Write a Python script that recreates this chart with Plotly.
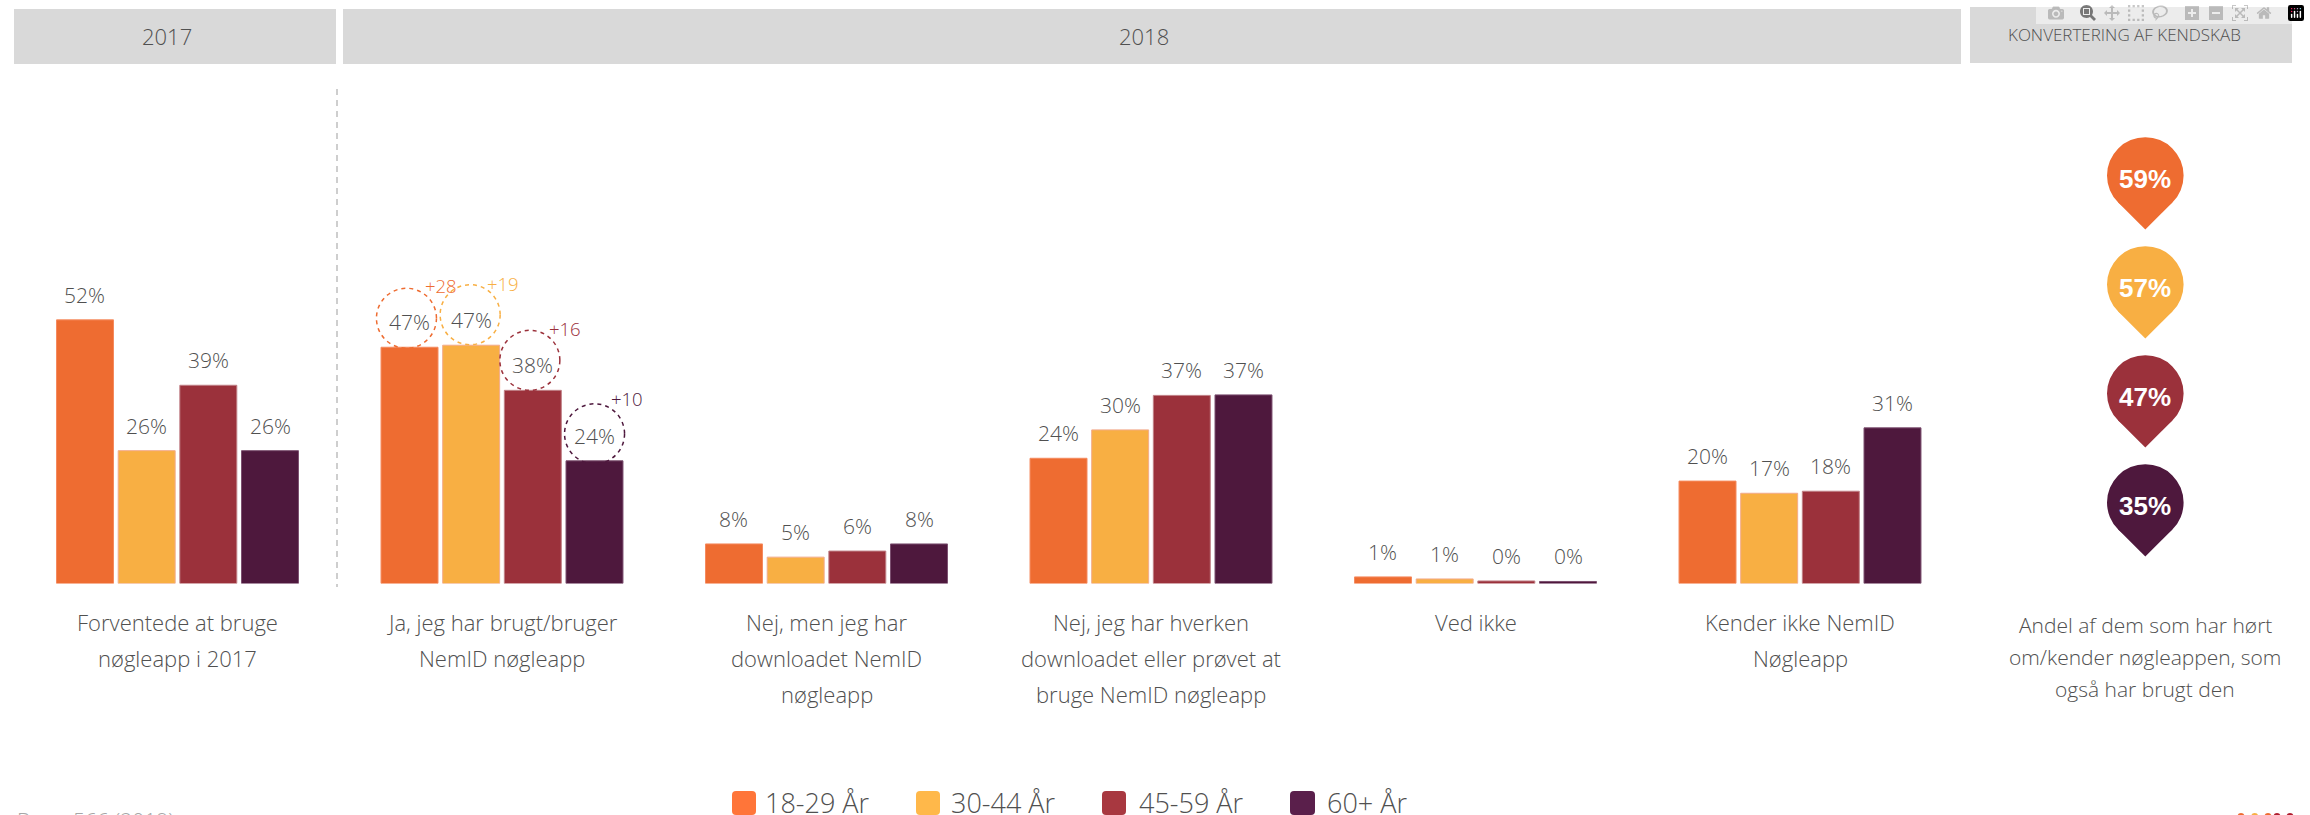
import plotly.graph_objects as go

# ---------- data ----------
category_lines = [
    ["Forventede at bruge", "nøgleapp i 2017"],
    ["Ja, jeg har brugt/bruger", "NemID nøgleapp"],
    ["Nej, men jeg har", "downloadet NemID", "nøgleapp"],
    ["Nej, jeg har hverken", "downloadet eller prøvet at", "bruge NemID nøgleapp"],
    ["Ved ikke"],
    ["Kender ikke NemID", "Nøgleapp"],
]
categories = [" ".join(l) for l in category_lines]
age_groups = ["18-29 År", "30-44 År", "45-59 År", "60+ År"]
v_18_29 = [52.0, 46.6, 7.8, 24.7, 1.3, 20.2]
v_30_44 = [26.2, 47.0, 5.2, 30.3, 0.9, 17.8]
v_45_59 = [39.1, 38.1, 6.4, 37.1, 0.5, 18.2]
v_60 = [26.2, 24.2, 7.8, 37.2, 0.4, 30.7]
labels_18_29 = ["52%", "47%", "8%", "24%", "1%", "20%"]
labels_30_44 = ["26%", "47%", "5%", "30%", "1%", "17%"]
labels_45_59 = ["39%", "38%", "6%", "37%", "0%", "18%"]
labels_60 = ["26%", "24%", "8%", "37%", "0%", "31%"]
delta_labels = ["+28", "+19", "+16", "+10"]
conversion = ["59%", "57%", "47%", "35%"]
headers = ["2017", "2018", "KONVERTERING AF KENDSKAB"]
conversion_note = ["Andel af dem som har hørt", "om/kender nøgleappen, som", "også har brugt den"]
base_note = "Base: 566 (2019)"

# ---------- style ----------
W, H = 2310, 815
colors = ["#EE6C31", "#F8AF43", "#9B313B", "#4E183D"]
edge = ["#F58A5E", "#F2AB8C", "#C08086", "#7C5070"]
legend_colors = ["#FF7539", "#FFB84A", "#A83840", "#5A1F4B"]
TXT = "#505050"
FONT = "Open Sans"
series = [v_18_29, v_30_44, v_45_59, v_60]
series_labels = [labels_18_29, labels_30_44, labels_45_59, labels_60]

PLOT_L, PLOT_R = 15.25, 1962.25
BASE_Y = 583.5
PX_PER = 5.07
YMAX = 100
TOP_Y = BASE_Y - YMAX * PX_PER
CAT_W = (PLOT_R - PLOT_L) / len(categories)
PITCH = 61.7 / CAT_W


def fx(x):
    return x / W


def fy(y):
    return (H - y) / H


fig = go.Figure()
for name, vals, c, e in zip(age_groups, series, colors, edge):
    fig.add_bar(name=name, x=categories, y=vals, marker=dict(color=c, line=dict(color=e, width=1)),
                showlegend=False)

annotations = []
shapes = []


def note(x, y, text, size, color=TXT, font=FONT, weight=300, xref="paper", yref="paper", **kw):
    annotations.append(dict(x=x, y=y, text=text, xref=xref, yref=yref, showarrow=False,
                            font=dict(family=font, size=size, color=color, weight=weight), **kw))


# value labels above bars
for j, (vals, labs) in enumerate(zip(series, series_labels)):
    off = (j - 1.5) * PITCH
    for i, (v, lab) in enumerate(zip(vals, labs)):
        note(i + off, v, lab, 21, xref="x", yref="y", yshift=25, yanchor="middle", xanchor="center")

# dashed circles and change labels on the second group
circle_dx = [-3, -1, -3, 0]
circle_dy = [29, 30.5, 30, 27]
R = 30
for j, (vals, c, d) in enumerate(zip(series, colors, delta_labels)):
    xc = 1 + (j - 1.5) * PITCH
    v = vals[1]
    shapes.append(dict(type="circle", xref="x", yref="y", xsizemode="pixel", ysizemode="pixel",
                       xanchor=xc, yanchor=v,
                       x0=circle_dx[j] - R, x1=circle_dx[j] + R,
                       y0=circle_dy[j] - R, y1=circle_dy[j] + R,
                       line=dict(color=c, width=1.5, dash="4px,4px"), fillcolor="rgba(0,0,0,0)"))
    note(xc, v, d, 18.5, color=c, xref="x", yref="y", xshift=32, yshift=62,
         yanchor="middle", xanchor="center")

# category labels, one annotation per line
line_y = [622, 658, 694]
for i, lines in enumerate(category_lines):
    for k, line in enumerate(lines):
        note(i, fy(line_y[k]), line, 22, xref="x", yanchor="middle", xanchor="center")

# header bands
for (x0, x1, y0, y1) in [(14, 336, 9, 64), (343, 1961, 9, 64), (1970, 2292, 7, 63)]:
    shapes.append(dict(type="rect", xref="paper", yref="paper", x0=fx(x0), x1=fx(x1), y0=fy(y0), y1=fy(y1),
                       fillcolor="#D9D9D9", line_width=0, layer="below"))
note(fx(167), fy(36), headers[0], 22, xanchor="center", yanchor="middle")
note(fx(1144), fy(36), headers[1], 22, xanchor="center", yanchor="middle")
note(fx(2124), fy(35), headers[2], 17, xanchor="center", yanchor="middle")

# separator
shapes.append(dict(type="line", xref="paper", yref="paper", x0=fx(337), x1=fx(337), y0=fy(89), y1=fy(587),
                   line=dict(color="#BFBFBF", width=1.5, dash="6px,5px")))

# conversion pins
CX = 2145.3
PIN_R = 38.3
pin_y = [175.5, 284.5, 393.5, 502.5]
for cy, c, t in zip(pin_y, colors, conversion):
    shapes.append(dict(type="circle", xref="paper", yref="paper", x0=fx(CX - PIN_R), x1=fx(CX + PIN_R),
                       y0=fy(cy + PIN_R), y1=fy(cy - PIN_R), fillcolor=c, line_width=0))
    d = PIN_R * 0.7071
    path = f"M {fx(CX - d)} {fy(cy + d)} L {fx(CX)} {fy(cy + 54)} L {fx(CX + d)} {fy(cy + d)} L {fx(CX)} {fy(cy)} Z"
    shapes.append(dict(type="path", xref="paper", yref="paper", path=path, fillcolor=c, line_width=0))
    note(fx(CX), fy(cy + 3.5), t, 26, color="#FFFFFF", font="Liberation Sans", weight=700,
         xanchor="center", yanchor="middle")
for y, line in zip([625, 657, 689], conversion_note):
    note(fx(2145), fy(y), line, 21, xanchor="center", yanchor="middle")

# legend
leg_x = [(732, 756, 763), (916, 940, 949), (1102, 1126, 1137), (1290, 1315, 1325)]
for (x0, x1, tx), c, name in zip(leg_x, legend_colors, age_groups):
    y0, y1, r = 791, 815, 4
    path = (f"M {fx(x0 + r)} {fy(y0)} L {fx(x1 - r)} {fy(y0)} Q {fx(x1)} {fy(y0)} {fx(x1)} {fy(y0 + r)} "
            f"L {fx(x1)} {fy(y1 - r)} Q {fx(x1)} {fy(y1)} {fx(x1 - r)} {fy(y1)} "
            f"L {fx(x0 + r)} {fy(y1)} Q {fx(x0)} {fy(y1)} {fx(x0)} {fy(y1 - r)} "
            f"L {fx(x0)} {fy(y0 + r)} Q {fx(x0)} {fy(y0)} {fx(x0 + r)} {fy(y0)} Z")
    shapes.append(dict(type="path", xref="paper", yref="paper", path=path, fillcolor=c, line_width=0))
    note(fx(tx), fy(802), name, 27, xanchor="left", yanchor="middle")

# base note, cut by the page edge
note(fx(15), fy(804), base_note, 21, color="#A6A6A6", xanchor="left", yanchor="top")

# logo dots cut by the page edge
for x, c in zip([2241, 2254.7, 2268, 2277, 2290], ["#EE6C31", "#F8AF43", "#EE6C31", "#B01E2E", "#B01E2E"]):
    shapes.append(dict(type="circle", xref="paper", yref="paper", x0=fx(x - 3.5), x1=fx(x + 3.5),
                       y0=fy(820), y1=fy(813), fillcolor=c, line_width=0))

fig.update_layout(
    width=W, height=H, autosize=False,
    margin=dict(l=0, r=0, t=0, b=0, pad=0),
    paper_bgcolor="#FFFFFF", plot_bgcolor="rgba(0,0,0,0)",
    barmode="group", bargap=0.24, bargroupgap=0.076,
    xaxis=dict(domain=[PLOT_L / W, PLOT_R / W], showgrid=False, zeroline=False, showline=False,
               showticklabels=False, ticks="", type="category", range=[-0.5, 5.5]),
    yaxis=dict(domain=[fy(BASE_Y), fy(TOP_Y)], range=[0, YMAX], showgrid=False, zeroline=False,
               showline=False, showticklabels=False, ticks=""),
    annotations=annotations, shapes=shapes,
)

fig.write_html("out.html", post_script="document.body.style.margin='0';document.body.style.overflow='hidden';")
